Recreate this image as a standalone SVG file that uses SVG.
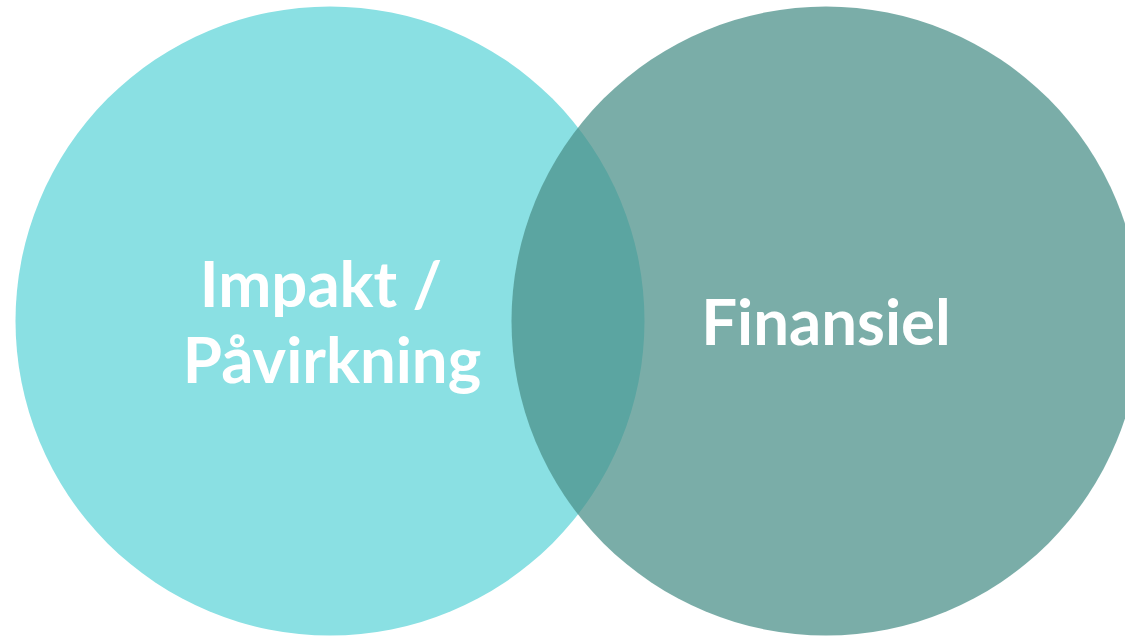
<svg xmlns="http://www.w3.org/2000/svg" width="1125" height="636" viewBox="0 0 1125 636">
<style>
.lbl{font-family:Lato,"Open Sans","Liberation Sans",sans-serif;font-weight:700;font-size:63.5px;fill:#FFFFFF;text-anchor:middle}
</style>
<rect width="1125" height="636" fill="#FFFFFF"/>
<g id="impakt">
<circle cx="330" cy="321" r="314.5" fill="#8AE0E3"/>
</g>
<g id="finansiel">
<circle cx="826" cy="321" r="314.5" fill="#4A8F89" fill-opacity="0.735"/>
</g>
<g id="labels">
<text class="lbl" x="321" y="307">Impakt /</text>
<text class="lbl" x="332" y="383">Påvirkning</text>
<text class="lbl" x="826" y="345">Finansiel</text>
</g>
<g id="connectors"/>
</svg>
